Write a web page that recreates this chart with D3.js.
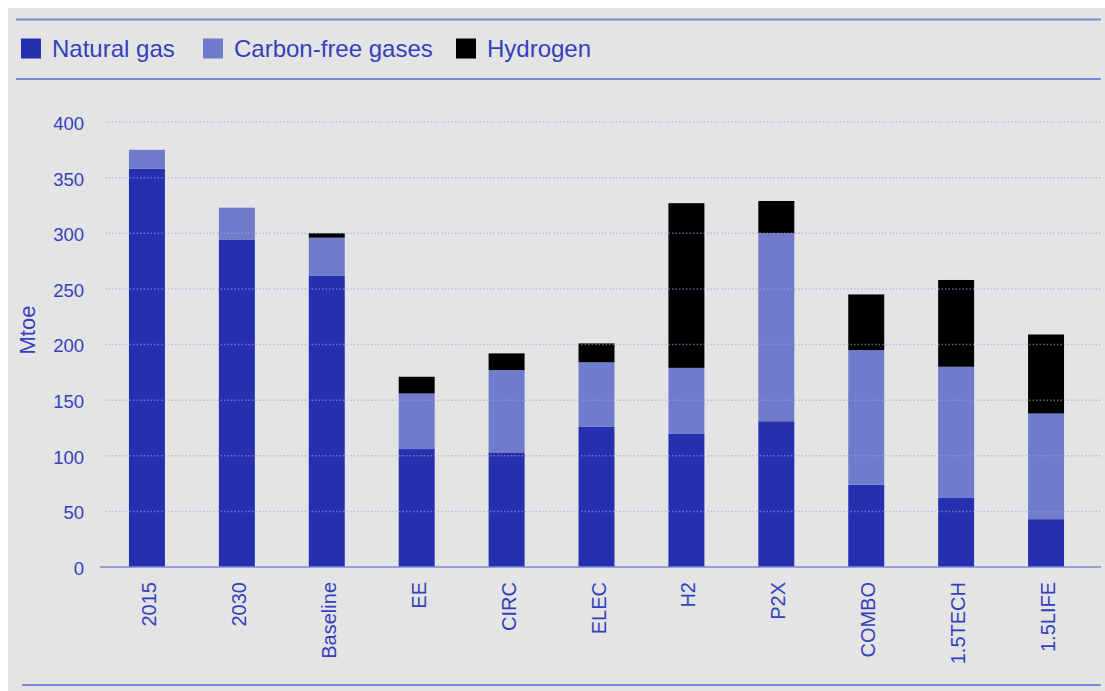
<!DOCTYPE html>
<html>
<head>
<meta charset="utf-8">
<script src="https://cdn.jsdelivr.net/npm/d3@7"></script>
<style>
  body { margin: 0; background: #fff; }
  svg { display: block; font-family: "Liberation Sans", Arial, sans-serif; }
</style>
</head>
<body>
<div id="vis"></div>
<script>
const width = 1105;
const height = 691;
const margin = { top: 122, right: 14, bottom: 124, left: 102 };

const scenarios = ["2015", "2030", "Baseline", "EE", "CIRC", "ELEC", "H2", "P2X", "COMBO", "1.5TECH", "1.5LIFE"];
const naturalGas = [358, 294, 262, 106, 103, 126, 120, 131, 74, 62, 43];
const carbonFree = [17, 29, 34, 50, 74, 58, 59, 169, 121, 118, 95];
const hydrogen = [0, 0, 4, 15, 15, 17, 148, 29, 50, 78, 71];
const seriesNames = ["Natural gas", "Carbon-free gases", "Hydrogen"];
const yTicks = [0, 50, 100, 150, 200, 250, 300, 350, 400];

const colors = {
    "Natural gas": "#2430b0",
    "Carbon-free gases": "#6e7ccb",
    "Hydrogen": "#000000"
};
const textColor = "#3341bd";
const lineColor = "#7c88d8";

const rows = scenarios.map((s, i) => ({
    scenario: s,
    "Natural gas": naturalGas[i],
    "Carbon-free gases": carbonFree[i],
    "Hydrogen": hydrogen[i]
}));

const svg = d3.select("#vis").append("svg")
    .attr("width", width)
    .attr("height", height);

// grey panel
svg.append("rect")
    .attr("x", 8).attr("y", 8)
    .attr("width", width - 8).attr("height", height - 8)
    .attr("fill", "#e4e4e4");

// rules above/below legend and at the bottom
[[16, 19.5], [16, 79]].forEach(([x0, y]) => {
    svg.append("line")
        .attr("x1", x0).attr("x2", 1101)
        .attr("y1", y).attr("y2", y)
        .attr("stroke", lineColor).attr("stroke-width", 2);
});
svg.append("line")
    .attr("x1", 22).attr("x2", 1101)
    .attr("y1", 685).attr("y2", 685)
    .attr("stroke", lineColor).attr("stroke-width", 2);

// legend
const legendX = [21, 203, 456];
const legend = svg.append("g");
seriesNames.forEach((name, i) => {
    legend.append("rect")
        .attr("x", legendX[i]).attr("y", 38.5)
        .attr("width", 20).attr("height", 20)
        .attr("fill", colors[name]);
    legend.append("text")
        .attr("x", legendX[i] + 31).attr("y", 49)
        .attr("dy", "0.35em")
        .attr("fill", textColor)
        .style("font-size", "24px")
        .text(name);
});

const x = d3.scaleBand()
    .domain(scenarios)
    .range([margin.left, width - margin.right])
    .paddingInner(0.6)
    .paddingOuter(0.3);

const y = d3.scaleLinear()
    .domain([0, 400])
    .range([height - margin.bottom, margin.top]);

const stack = d3.stack().keys(seriesNames);
const stacked = stack(rows);

// bars
svg.append("g")
    .selectAll("g")
    .data(stacked)
    .join("g")
    .attr("fill", d => colors[d.key])
    .selectAll("rect")
    .data(d => d.filter(p => p[1] - p[0] > 0))
    .join("rect")
    .attr("x", d => x(d.data.scenario))
    .attr("y", d => y(d[1]))
    .attr("width", x.bandwidth())
    .attr("height", d => y(d[0]) - y(d[1]));

// dotted gridlines (drawn over the bars, faintly)
svg.append("g")
    .selectAll("line")
    .data(yTicks.filter(t => t > 0))
    .join("line")
    .attr("x1", 105).attr("x2", 1101)
    .attr("y1", d => y(d)).attr("y2", d => y(d))
    .attr("stroke", "#9aa4e0")
    .attr("stroke-width", 1.5)
    .attr("stroke-dasharray", "1.5,2")
    .attr("opacity", 0.6);

// baseline
svg.append("line")
    .attr("x1", 100).attr("x2", 1101)
    .attr("y1", y(0)).attr("y2", y(0))
    .attr("stroke", lineColor).attr("stroke-width", 1.5);

// y axis labels
const yAxis = svg.append("g")
    .attr("transform", `translate(84,0)`)
    .call(d3.axisLeft(y).tickValues(yTicks).tickSize(0).tickPadding(0));
yAxis.select(".domain").remove();
yAxis.selectAll("text")
    .attr("fill", textColor)
    .attr("dy", "0.4em")
    .style("font-size", "18.5px")
    .style("font-family", "'Liberation Sans', Arial, sans-serif");

svg.append("text")
    .attr("transform", "translate(35,330) rotate(-90)")
    .attr("text-anchor", "middle")
    .attr("fill", textColor)
    .style("font-size", "22px")
    .text("Mtoe");

// x axis labels
const xAxis = svg.append("g")
    .attr("transform", `translate(0,${y(0)})`)
    .call(d3.axisBottom(x).tickSize(0).tickPadding(0));
xAxis.select(".domain").remove();
xAxis.selectAll("text")
    .attr("fill", textColor)
    .style("font-size", "20px")
    .style("font-family", "'Liberation Sans', Arial, sans-serif")
    .attr("text-anchor", "end")
    .attr("transform", "rotate(-90)")
    .attr("x", -15)
    .attr("y", 0)
    .attr("dy", "0.45em");
</script>
</body>
</html>
